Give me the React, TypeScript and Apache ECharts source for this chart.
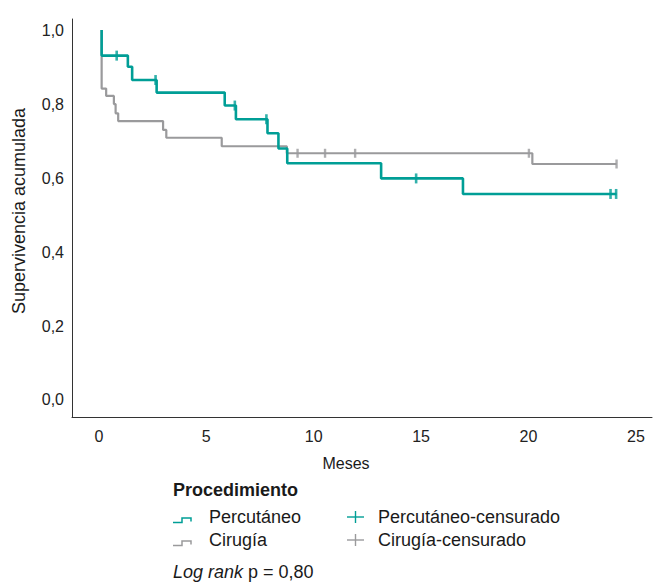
import React, { useEffect, useRef } from "react";
import * as echarts from "echarts";

// Kaplan-Meier steps: time (months) and cumulative survival after that time
const percTimes = [0.13, 0.13, 1.35, 1.55, 2.69, 5.86, 6.38, 7.85, 8.36, 8.77, 13.14, 16.95, 24.1];
const percSurv = [1.0, 0.931, 0.901, 0.865, 0.831, 0.796, 0.759, 0.721, 0.68, 0.64, 0.599, 0.557, 0.557];
const percCensored = [0.83, 2.64, 6.33, 7.8, 14.77, 23.82, 24.08];

const cirTimes = [0.13, 0.13, 0.34, 0.7, 0.78, 0.9, 2.99, 3.14, 5.72, 8.75, 20.18, 24.1];
const cirSurv = [1.0, 0.842, 0.822, 0.8, 0.775, 0.754, 0.73, 0.709, 0.686, 0.667, 0.638, 0.638];
const cirCensored = [9.25, 10.53, 11.93, 20.02, 24.1];

const groupNames = ["Percutáneo", "Cirugía"];
const censorNames = ["Percutáneo-censurado", "Cirugía-censurado"];
const legendTitle = "Procedimiento";
const xTitle = "Meses";
const yTitle = "Supervivencia acumulada";
const pValue = "0,80";

const TEAL = "#009E96";
const GRAY = "#9A9A9C";
const FONT = "'Liberation Sans', Arial, Helvetica, sans-serif";

function survAt(times: number[], surv: number[], t: number) {
  let v = surv[0];
  for (let i = 0; i < times.length; i++) {
    if (times[i] <= t) v = surv[i];
  }
  return v;
}

function stepLegend(x: number, y: number, color: string) {
  return {
    type: "polyline",
    shape: {
      points: [
        [x, y + 5],
        [x + 9, y + 5],
        [x + 9, y + 0.5],
        [x + 18, y + 0.5],
        [x + 18, y + 4],
      ],
    },
    style: { stroke: color, lineWidth: 1.5, fill: null },
  };
}

function crossLegend(x: number, y: number, color: string) {
  return {
    type: "group",
    children: [
      { type: "line", shape: { x1: x, y1: y, x2: x + 17, y2: y }, style: { stroke: color, lineWidth: 1.4 } },
      { type: "line", shape: { x1: x + 8.5, y1: y - 6, x2: x + 8.5, y2: y + 6 }, style: { stroke: color, lineWidth: 1.4 } },
    ],
  };
}

function legendText(x: number, y: number, text: string) {
  return {
    type: "text",
    x,
    y,
    style: { text, font: `18px ${FONT}`, fill: "#1a1a1a", align: "left", verticalAlign: "middle" },
  };
}

export default function App() {
  const ref = useRef<HTMLDivElement>(null);

  useEffect(() => {
    if (!ref.current) return;
    const chart = echarts.init(ref.current, null, { renderer: "svg" });

    const fmtY = (v: number) => {
      const k = v / 0.2;
      if (Math.abs(k - Math.round(k)) > 1e-6 || v < -1e-9) return "";
      return v.toFixed(1).replace(".", ",");
    };
    const fmtX = (v: number) => {
      const k = v / 5;
      if (Math.abs(k - Math.round(k)) > 1e-6 || v < -1e-9) return "";
      return String(Math.round(v));
    };

    const row1 = 517;
    const row2 = 540;

    chart.setOption({
      animation: false,
      backgroundColor: "#ffffff",
      grid: { left: 72, top: 19, width: 580, height: 398, containLabel: false },
      xAxis: {
        type: "value",
        min: -1.25,
        max: 25.75,
        splitNumber: 5,
        axisLine: { show: true, onZero: false, lineStyle: { color: "#333", width: 1 } },
        axisTick: { show: false },
        splitLine: { show: false },
        axisLabel: { formatter: fmtX, color: "#222", fontSize: 16, fontFamily: FONT, margin: 11, showMinLabel: false, showMaxLabel: false },
      },
      yAxis: {
        type: "value",
        min: -0.046,
        max: 1.03,
        splitNumber: 5,
        axisLine: { show: true, onZero: false, lineStyle: { color: "#333", width: 1 } },
        axisTick: { show: false },
        splitLine: { show: false },
        axisLabel: { formatter: fmtY, color: "#222", fontSize: 16, fontFamily: FONT, margin: 8, showMinLabel: false, showMaxLabel: false },
      },
      series: [
        {
          name: groupNames[1],
          type: "line",
          step: "end",
          symbol: "none",
          lineStyle: { color: GRAY, width: 2.2 },
          data: cirTimes.map((t, i) => [t, cirSurv[i]]),
        },
        {
          name: censorNames[1],
          type: "scatter",
          symbol: "rect",
          symbolSize: [2.4, 9],
          itemStyle: { color: GRAY },
          data: cirCensored.map((t) => [t, survAt(cirTimes, cirSurv, t)]),
        },
        {
          name: groupNames[0],
          type: "line",
          step: "end",
          symbol: "none",
          lineStyle: { color: TEAL, width: 2.6 },
          data: percTimes.map((t, i) => [t, percSurv[i]]),
        },
        {
          name: censorNames[0],
          type: "scatter",
          symbol: "rect",
          symbolSize: [2.6, 10],
          itemStyle: { color: TEAL },
          data: percCensored.map((t) => [t, survAt(percTimes, percSurv, t)]),
        },
      ],
      graphic: [
        {
          type: "text",
          x: 346,
          y: 463,
          style: { text: xTitle, font: `16px ${FONT}`, fill: "#1a1a1a", align: "center", verticalAlign: "middle" },
        },
        {
          type: "text",
          x: 19,
          y: 211,
          rotation: Math.PI / 2,
          style: { text: yTitle, font: `18px ${FONT}`, fill: "#1a1a1a", align: "center", verticalAlign: "middle" },
        },
        {
          type: "text",
          x: 173,
          y: 490,
          style: { text: legendTitle, font: `bold 18px ${FONT}`, fill: "#1a1a1a", align: "left", verticalAlign: "middle" },
        },
        stepLegend(173, row1 + 0.5, TEAL),
        legendText(209, row1, groupNames[0]),
        crossLegend(347, row1, TEAL),
        legendText(378, row1, censorNames[0]),
        stepLegend(173, row2 + 0.5, GRAY),
        legendText(209, row2, groupNames[1]),
        crossLegend(347, row2, GRAY),
        legendText(378, row2, censorNames[1]),
        {
          type: "text",
          x: 173,
          y: 572,
          style: {
            text: "{i|Log rank} p = " + pValue,
            font: `18px ${FONT}`,
            fill: "#1a1a1a",
            align: "left",
            verticalAlign: "middle",
            rich: { i: { fontStyle: "italic", fontSize: 18, fontFamily: FONT, fill: "#1a1a1a" } },
          },
        },
      ],
    });

    return () => chart.dispose();
  }, []);

  return (
    <div
      ref={ref}
      style={{ position: "absolute", left: 0, top: 0, width: 657, height: 585, background: "#fff" }}
    />
  );
}
